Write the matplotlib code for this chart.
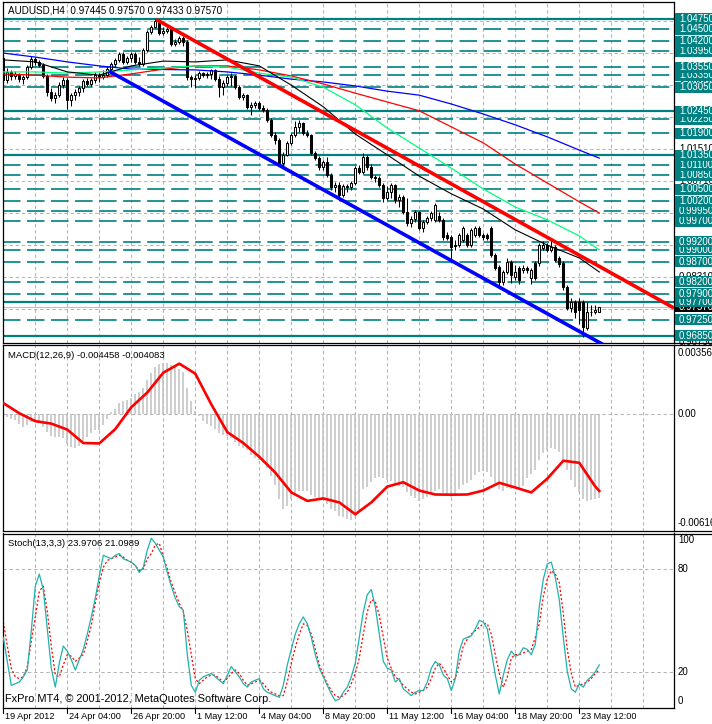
import numpy as np
import matplotlib
matplotlib.use('Agg')
import matplotlib.pyplot as plt
import matplotlib.transforms as mtrans
from matplotlib.patches import Rectangle
from matplotlib.lines import Line2D

plt.rcParams['font.family'] = ['Liberation Sans', 'DejaVu Sans']
plt.rcParams['lines.scale_dashes'] = False

W, H = 712, 724

# ---- AUDUSD H4 candles ----
opens = [1.0377, 1.0322, 1.0342, 1.0332, 1.0337, 1.0325, 1.0330, 1.0355, 1.0375, 1.0367,
         1.0360, 1.0332, 1.0292, 1.0277, 1.0285, 1.0310, 1.0322, 1.0273, 1.0285, 1.0292,
         1.0302, 1.0320, 1.0312, 1.0322, 1.0335, 1.0330, 1.0335, 1.0350, 1.0362, 1.0372,
         1.0387, 1.0367, 1.0377, 1.0387, 1.0367, 1.0362, 1.0397, 1.0442, 1.0455, 1.0470,
         1.0440, 1.0445, 1.0450, 1.0412, 1.0417, 1.0427, 1.0417, 1.0330, 1.0325, 1.0327,
         1.0340, 1.0335, 1.0337, 1.0347, 1.0325, 1.0305, 1.0315, 1.0330, 1.0332, 1.0305,
         1.0280, 1.0285, 1.0255, 1.0260, 1.0265, 1.0253, 1.0248, 1.0223, 1.0186, 1.0173,
         1.0116, 1.0136, 1.0166, 1.0186, 1.0206, 1.0216, 1.0191, 1.0186, 1.0141, 1.0129,
         1.0106, 1.0119, 1.0086, 1.0056, 1.0061, 1.0036, 1.0059, 1.0056, 1.0066, 1.0104,
         1.0094, 1.0131, 1.0106, 1.0081, 1.0079, 1.0061, 1.0029, 1.0044, 1.0061, 1.0024,
         1.0031, 0.9994, 0.9967, 0.9977, 0.9994, 0.9954, 0.9969, 0.9979, 0.9974, 0.9984,
         0.9974, 0.9937, 0.9932, 0.9912, 0.9912, 0.9924, 0.9937, 0.9912, 0.9937, 0.9954,
         0.9937, 0.9937, 0.9954, 0.9887, 0.9857, 0.9820, 0.9845, 0.9870, 0.9832, 0.9855,
         0.9850, 0.9855, 0.9830, 0.9867, 0.9867, 0.9904, 0.9912, 0.9899, 0.9907, 0.9880,
         0.9867, 0.9807, 0.9755, 0.9770, 0.9770, 0.9770, 0.9705, 0.9743, 0.9743, 0.97445]
highs = [1.0385, 1.0352, 1.0347, 1.0345, 1.0340, 1.0335, 1.0360, 1.0382, 1.0380, 1.0372,
         1.0365, 1.0337, 1.0302, 1.0292, 1.0317, 1.0330, 1.0327, 1.0290, 1.0300, 1.0307,
         1.0325, 1.0327, 1.0327, 1.0342, 1.0340, 1.0347, 1.0357, 1.0367, 1.0377, 1.0392,
         1.0392, 1.0382, 1.0392, 1.0392, 1.0380, 1.0402, 1.0447, 1.0460, 1.0475, 1.0472,
         1.0455, 1.0455, 1.0452, 1.0425, 1.0432, 1.0432, 1.0422, 1.0335, 1.0335, 1.0345,
         1.0342, 1.0342, 1.0350, 1.0350, 1.0332, 1.0322, 1.0335, 1.0340, 1.0335, 1.0310,
         1.0290, 1.0287, 1.0268, 1.0270, 1.0270, 1.0260, 1.0253, 1.0228, 1.0193, 1.0178,
         1.0144, 1.0171, 1.0191, 1.0221, 1.0223, 1.0218, 1.0198, 1.0188, 1.0146, 1.0134,
         1.0124, 1.0131, 1.0091, 1.0069, 1.0069, 1.0064, 1.0064, 1.0071, 1.0109, 1.0111,
         1.0141, 1.0136, 1.0114, 1.0086, 1.0084, 1.0066, 1.0059, 1.0066, 1.0064, 1.0039,
         1.0036, 1.0029, 0.9984, 0.9999, 0.9997, 0.9974, 0.9984, 0.9997, 1.0017, 0.9994,
         0.9979, 0.9944, 0.9937, 0.9924, 0.9942, 0.9959, 0.9942, 0.9954, 0.9959, 0.9959,
         0.9942, 0.9942, 0.9959, 0.9892, 0.9862, 0.9850, 0.9880, 0.9875, 0.9862, 0.9860,
         0.9862, 0.9860, 0.9855, 0.9872, 0.9917, 0.9922, 0.9917, 0.9924, 0.9912, 0.9885,
         0.9872, 0.9812, 0.9780, 0.9775, 0.9780, 0.9775, 0.9770, 0.9762, 0.9762, 0.97570]
lows = [1.0317, 1.0315, 1.0322, 1.0325, 1.0317, 1.0312, 1.0325, 1.0350, 1.0360, 1.0355,
        1.0327, 1.0282, 1.0270, 1.0265, 1.0280, 1.0302, 1.0250, 1.0258, 1.0273, 1.0282,
        1.0292, 1.0307, 1.0307, 1.0315, 1.0317, 1.0325, 1.0330, 1.0342, 1.0355, 1.0367,
        1.0362, 1.0362, 1.0367, 1.0362, 1.0357, 1.0357, 1.0392, 1.0437, 1.0452, 1.0435,
        1.0435, 1.0440, 1.0407, 1.0407, 1.0412, 1.0407, 1.0322, 1.0305, 1.0302, 1.0322,
        1.0330, 1.0327, 1.0325, 1.0320, 1.0280, 1.0285, 1.0307, 1.0307, 1.0300, 1.0275,
        1.0273, 1.0250, 1.0236, 1.0253, 1.0248, 1.0243, 1.0218, 1.0181, 1.0163, 1.0111,
        1.0109, 1.0134, 1.0161, 1.0181, 1.0193, 1.0186, 1.0181, 1.0136, 1.0124, 1.0099,
        1.0099, 1.0081, 1.0049, 1.0044, 1.0024, 1.0031, 1.0044, 1.0049, 1.0061, 1.0089,
        1.0089, 1.0099, 1.0076, 1.0069, 1.0056, 1.0019, 1.0024, 1.0029, 1.0017, 1.0007,
        0.9989, 0.9959, 0.9957, 0.9969, 0.9949, 0.9944, 0.9964, 0.9972, 0.9969, 0.9969,
        0.9924, 0.9924, 0.9870, 0.9899, 0.9907, 0.9919, 0.9907, 0.9907, 0.9932, 0.9932,
        0.9924, 0.9924, 0.9882, 0.9850, 0.9805, 0.9812, 0.9840, 0.9817, 0.9825, 0.9815,
        0.9842, 0.9842, 0.9815, 0.9825, 0.9860, 0.9899, 0.9894, 0.9894, 0.9870, 0.9857,
        0.9800, 0.9750, 0.9745, 0.9730, 0.9713, 0.9683, 0.9700, 0.9735, 0.9738, 0.97433]
closes = [1.0322, 1.0342, 1.0332, 1.0337, 1.0325, 1.0330, 1.0355, 1.0375, 1.0367, 1.0360,
          1.0332, 1.0292, 1.0277, 1.0285, 1.0310, 1.0322, 1.0273, 1.0285, 1.0292, 1.0302,
          1.0320, 1.0312, 1.0322, 1.0335, 1.0330, 1.0335, 1.0350, 1.0362, 1.0372, 1.0387,
          1.0367, 1.0377, 1.0387, 1.0367, 1.0362, 1.0397, 1.0442, 1.0455, 1.0470, 1.0440,
          1.0445, 1.0450, 1.0412, 1.0417, 1.0427, 1.0417, 1.0330, 1.0325, 1.0327, 1.0340,
          1.0335, 1.0337, 1.0347, 1.0325, 1.0305, 1.0315, 1.0330, 1.0332, 1.0305, 1.0280,
          1.0285, 1.0255, 1.0260, 1.0265, 1.0253, 1.0248, 1.0223, 1.0186, 1.0173, 1.0116,
          1.0136, 1.0166, 1.0186, 1.0206, 1.0216, 1.0191, 1.0186, 1.0141, 1.0129, 1.0106,
          1.0119, 1.0086, 1.0056, 1.0061, 1.0036, 1.0059, 1.0056, 1.0066, 1.0104, 1.0094,
          1.0131, 1.0106, 1.0081, 1.0079, 1.0061, 1.0029, 1.0044, 1.0061, 1.0024, 1.0031,
          0.9994, 0.9967, 0.9977, 0.9994, 0.9954, 0.9969, 0.9979, 0.9992, 1.0012, 0.9974,
          0.9932, 0.9929, 0.9907, 0.9909, 0.9937, 0.9954, 0.9912, 0.9949, 0.9954, 0.9937,
          0.9932, 0.9929, 0.9887, 0.9855, 0.9820, 0.9845, 0.9870, 0.9837, 0.9845, 0.9825,
          0.9855, 0.9850, 0.9850, 0.9830, 0.9912, 0.9912, 0.9899, 0.9907, 0.9875, 0.9865,
          0.9807, 0.9755, 0.9770, 0.9743, 0.9750, 0.9708, 0.9745, 0.9745, 0.9748, 0.97570]

# moving averages, read every 8 bars plus the last bar
ma_bars = [0, 8, 16, 24, 32, 40, 48, 56, 64, 72, 80, 88, 96, 104, 112, 120, 128, 136, 144, 149]
ma_black = [1.0373, 1.0368, 1.0343, 1.0335, 1.0358, 1.0370, 1.0368, 1.0373, 1.0358, 1.0310,
            1.0256, 1.0188, 1.0136, 1.0083, 1.0039, 1.0001, 0.9949, 0.9911, 0.9879, 0.9844]
ma_green = [1.0343, 1.0343, 1.0340, 1.0343, 1.0348, 1.0353, 1.0358, 1.0355, 1.0340, 1.0330,
            1.0305, 1.0261, 1.0203, 1.0153, 1.0103, 1.0051, 1.0006, 0.9974, 0.9934, 0.9899]
ma_red = [1.0338, 1.0335, 1.0330, 1.0328, 1.0338, 1.0350, 1.0358, 1.0358, 1.0348, 1.0333,
          1.0313, 1.0290, 1.0268, 1.0246, 1.0206, 1.0166, 1.0113, 1.0066, 1.0019, 0.9991]
ma_blue = [1.0390, 1.0380, 1.0368, 1.0358, 1.0350, 1.0349, 1.0348, 1.0343, 1.0335, 1.0325,
           1.0318, 1.0308, 1.0295, 1.0285, 1.0263, 1.0238, 1.0211, 1.0181, 1.0148, 1.0128]

# channel trend lines (bar, price)
red_line = [(38.2, 1.0474), (167.7, 0.9754)]
blue_line = [(26.4, 1.0345), (167.7, 0.9565)]

solid_levels = [1.0475, 1.0245, 1.0135, 0.9770, 0.9685]
dashed_levels = [1.0450, 1.0420, 1.0395, 1.0355, 1.0335, 1.0305, 1.0225, 1.0190, 1.0110,
                 1.0085, 1.0050, 1.0020, 0.9995, 0.9970, 0.9920, 0.9900, 0.9870, 0.9820,
                 0.9790, 0.9725]
grid_prices = [1.0471, 1.0391, 1.0311, 1.0231, 1.0151, 1.0071, 0.9991, 0.9911, 0.9831, 0.9751]
bid = 0.97570

# MACD(12,26,9): main as histogram, signal every 4 bars
macd_main = [-0.00013, -0.00018, -0.00029, -0.00034, -0.00055, -0.00071, -0.00060, -0.00045,
             -0.00039, -0.00045, -0.00071, -0.00097, -0.00118, -0.00123, -0.00123, -0.00128,
             -0.00160, -0.00175, -0.00181, -0.00170, -0.00144, -0.00123, -0.00102, -0.00086,
             -0.00086, -0.00060, -0.00024, 0.00008, 0.00029, 0.00060, 0.00071, 0.00076,
             0.00086, 0.00107, 0.00118, 0.00139, 0.00181, 0.00217, 0.00249, 0.00264,
             0.00270, 0.00270, 0.00259, 0.00249, 0.00238, 0.00223, 0.00139, 0.00071,
             0.00018, -0.00013, -0.00039, -0.00055, -0.00065, -0.00081, -0.00102, -0.00113,
             -0.00118, -0.00128, -0.00149, -0.00170, -0.00181, -0.00191, -0.00217, -0.00233,
             -0.00243, -0.00259, -0.00285, -0.00327, -0.00374, -0.00453, -0.00505, -0.00490,
             -0.00453, -0.00421, -0.00411, -0.00406, -0.00411, -0.00432, -0.00442, -0.00453,
             -0.00458, -0.00479, -0.00505, -0.00516, -0.00542, -0.00547, -0.00558, -0.00563,
             -0.00542, -0.00521, -0.00400, -0.00385, -0.00359, -0.00338, -0.00332, -0.00338,
             -0.00348, -0.00353, -0.00369, -0.00380, -0.00385, -0.00416, -0.00437, -0.00448,
             -0.00463, -0.00453, -0.00442, -0.00427, -0.00411, -0.00400, -0.00421, -0.00437,
             -0.00442, -0.00432, -0.00400, -0.00374, -0.00364, -0.00348, -0.00322, -0.00306,
             -0.00301, -0.00306, -0.00332, -0.00364, -0.00400, -0.00406, -0.00395, -0.00400,
             -0.00395, -0.00390, -0.00380, -0.00338, -0.00317, -0.00296, -0.00243, -0.00207,
             -0.00191, -0.00181, -0.00186, -0.00202, -0.00243, -0.00296, -0.00348, -0.00385,
             -0.00416, -0.00453, -0.00463, -0.00458, -0.00453, -0.004458]
sig_bars = list(range(0, 149, 4)) + [149]
macd_signal = [0.00058, 0.00004, -0.00038, -0.00051, -0.00083, -0.00154, -0.00156, -0.00080,
               0.00036, 0.00114, 0.00219, 0.00267, 0.00214, 0.00051, -0.00096, -0.00154,
               -0.00227, -0.00311, -0.00416, -0.00461, -0.00448, -0.00469, -0.00532, -0.00469,
               -0.00385, -0.00362, -0.00406, -0.00427, -0.00428, -0.00427, -0.00406, -0.00365,
               -0.00390, -0.00416, -0.00343, -0.00248, -0.00259, -0.00385, -0.004083]

# Stochastic(13,3,3)
stoch_main = [40, 26, 12, 13, 14, 17, 21, 44, 70, 77, 68, 45, 22, 11, 25, 35, 32, 27, 21, 27,
              33, 42, 52, 63, 76, 88, 87, 86, 88, 89, 86, 85, 84, 82, 78, 81, 91, 98, 95, 91,
              87, 78, 70, 63, 58, 56, 30, 12, 8, 15, 17, 18, 19, 17, 15, 13, 18, 23, 20, 17,
              13, 11, 14, 15, 16, 10, 8, 7, 6, 5, 12, 24, 33, 42, 48, 52, 48, 40, 30, 22,
              17, 12, 7, 3, 4, 8, 11, 17, 25, 40, 55, 65, 68, 58, 42, 26, 22, 21, 14, 16,
              10, 8, 6, 8, 9, 9, 14, 22, 26, 24, 18, 16, 9, 16, 32, 39, 40, 41, 45, 50,
              49, 45, 32, 18, 7, 18, 27, 32, 29, 30, 34, 33, 30, 36, 58, 74, 83, 84, 75, 62,
              40, 20, 10, 8, 13, 11, 15, 17, 20, 23.97]
stoch_signal = [49, 35, 22, 17, 16, 17, 23, 38, 52, 67, 70, 55, 35, 18, 17, 24, 30, 29, 26, 28,
                30, 38, 47, 60, 72, 81, 85, 86, 87, 88, 87, 85, 84, 82, 79, 80, 86, 89, 94, 95,
                87, 80, 72, 66, 60, 55, 44, 30, 16, 13, 15, 17, 18, 18, 16, 14, 16, 19, 21, 19,
                15, 12, 13, 14, 15, 13, 10, 8, 7, 6, 6, 14, 25, 34, 42, 48, 47, 42, 33, 24,
                18, 13, 9, 6, 5, 6, 8, 13, 19, 28, 42, 55, 62, 61, 53, 40, 28, 22, 17, 15,
                12, 10, 8, 7, 8, 9, 11, 16, 22, 25, 22, 18, 14, 16, 25, 35, 39, 42, 44, 46,
                48, 48, 42, 30, 19, 11, 17, 28, 30, 30, 31, 32, 33, 40, 48, 64, 74, 79, 77, 72,
                54, 33, 19, 11, 12, 13, 14, 16, 19, 21.10]

date_bars = [0, 16, 32, 48, 64, 80, 96, 112, 128, 144]
date_labels = ["19 Apr 2012", "24 Apr 04:00", "26 Apr 20:00", "1 May 12:00", "4 May 04:00",
               "8 May 20:00", "11 May 12:00", "16 May 04:00", "18 May 20:00", "23 May 12:00"]

TEAL = '#008080'
GRID = '#b4b4b4'
FS = 6.8
FS_PRICE = 7.0
XLIM = (-0.2, 167.675)
PLOT_L, PLOT_R = 2.5, 674.0


def panel(top, bottom, ylim):
    ax = fig.add_axes([PLOT_L / W, 1 - bottom / H, (PLOT_R - PLOT_L) / W, (bottom - top) / H])
    ax.set_xlim(*XLIM)
    ax.set_ylim(*ylim)
    ax.set_xticks([])
    ax.set_yticks([])
    for s in ax.spines.values():
        s.set_linewidth(0.9)
        s.set_color('black')
    for b in range(8, 168, 8):
        ax.axvline(b, color=GRID, lw=0.75, ls=(0, (2.4, 2.0)), zorder=0.5)
    return ax


def ftext(x, y, s, **kw):
    fig.text(x / W, 1 - y / H, s, va='center', ha='left', **kw)


fig = plt.figure(figsize=(W / 100, H / 100), dpi=100)
fig.patch.set_facecolor('white')

# ---------------- main price panel ----------------
P_LO, P_HI = 0.96681, 1.05174
ax = panel(2, 342.5, (P_LO, P_HI))
for g in grid_prices:
    ax.axhline(g, color=GRID, lw=0.75, ls=(0, (2.4, 2.0)), zorder=0.5)
for lv in dashed_levels:
    ax.axhline(lv, color=TEAL, lw=1.2, ls=(0, (12.6, 4.7)), zorder=1)
for lv in solid_levels:
    ax.axhline(lv, color=TEAL, lw=1.6, zorder=1)
ax.axhline(bid, color='#c0c0c0', lw=0.8, zorder=1)

xb = np.arange(len(closes))
o = np.array(opens)
c = np.array(closes)
ax.vlines(xb, lows, highs, color='black', lw=0.75, zorder=3)
up = c >= o
ax.bar(xb[up], (c - o)[up], bottom=o[up], width=0.55, facecolor='white',
       edgecolor='black', lw=0.75, zorder=4)
ax.bar(xb[~up], (o - c)[~up], bottom=c[~up], width=0.55, facecolor='black',
       edgecolor='black', lw=0.75, zorder=4)

ax.plot(ma_bars, ma_blue, color='#0000ff', lw=0.9, zorder=5)
ax.plot(ma_bars, ma_red, color='#ff0000', lw=0.9, zorder=5)
ax.plot(ma_bars, ma_green, color='#00ff7f', lw=0.9, zorder=5)
ax.plot(ma_bars, ma_black, color='black', lw=0.8, zorder=5)

ax.plot(*zip(*red_line), color='#ff0000', lw=2.6, solid_capstyle='butt', zorder=6)
ax.plot(*zip(*blue_line), color='#0000ff', lw=2.6, solid_capstyle='butt', zorder=6)

ftext(7.5, 10.5, "AUDUSD,H4  0.97445 0.97570 0.97433 0.97570", fontsize=7.1, color='black')

# right price scale: grid labels, bid box, then teal level boxes on top
tr = mtrans.blended_transform_factory(fig.transFigure, ax.transData)
px = (P_HI - P_LO) / (342.5 - 2)
for g in grid_prices:
    ax.text(679 / W, g, f"{g:.5f}", transform=tr, fontsize=FS_PRICE, color='black',
            va='center', ha='left', clip_on=False, zorder=7)
ax.text(679 / W, P_LO + 1.0 * px, "0.96730", transform=tr, fontsize=FS_PRICE, color='black',
        va='center', ha='left', clip_on=False, zorder=7)
ax.add_patch(Rectangle((675 / W, bid - 5.5 * px), 40 / W, 11 * px, transform=tr,
                       facecolor='black', edgecolor='none', clip_on=False, zorder=8))
ax.text(679 / W, bid, f"{bid:.5f}", transform=tr, fontsize=FS_PRICE, color='white',
        va='center', ha='left', clip_on=False, zorder=8)
for k, lv in enumerate(sorted(solid_levels + dashed_levels)):
    z = 9 + k * 0.01
    ax.add_patch(Rectangle((675 / W, lv - 5.5 * px), 40 / W, 11 * px, transform=tr,
                           facecolor=TEAL, edgecolor='none', clip_on=False, zorder=z))
    ax.text(679 / W, lv, f"{lv:.5f}", transform=tr, fontsize=FS_PRICE, color='white',
            va='center', ha='left', clip_on=False, zorder=z + 0.005)

# ---------------- MACD panel ----------------
axm = panel(345, 530.5, (-0.00618, 0.00366))
axm.axhline(0, color=GRID, lw=0.75, ls=(0, (2.4, 2.0)), zorder=0.5)
axm.vlines(xb, 0, macd_main, color='#c0c0c0', lw=1.1, zorder=2)
axm.plot(sig_bars, macd_signal, color='#ff0000', lw=1.9, zorder=3)
ftext(7.5, 355, "MACD(12,26,9) -0.004458 -0.004083", fontsize=FS, color='black')
ftext(678, 352.5, "0.00356", fontsize=FS_PRICE, color='black')
ftext(678, 414, "0.00", fontsize=FS_PRICE, color='black')
ftext(678, 523, "-0.00616", fontsize=FS_PRICE, color='black')

# ---------------- Stochastic panel ----------------
axs = panel(533.5, 708, (-1.21, 100.74))
for lv in (20, 80):
    axs.axhline(lv, color=GRID, lw=0.75, ls=(0, (2.4, 2.0)), zorder=0.5)
axs.plot(xb, stoch_signal, color='#ff0000', lw=0.9, ls=(0, (1.5, 1.5)), zorder=2)
axs.plot(xb, stoch_main, color='#20b2aa', lw=0.9, zorder=3)
ftext(7.5, 543.5, "Stoch(13,3,3) 23.9706 21.0989", fontsize=FS, color='black')
ftext(5, 699.5, "FxPro MT4, \u00a9 2001-2012, MetaQuotes Software Corp.", fontsize=7.9,
      color='black')
for val, yp in ((100, 540), (80, 569), (20, 672), (0, 701)):
    ftext(678, yp, str(val), fontsize=FS_PRICE, color='black')

# time axis
trx = mtrans.blended_transform_factory(axs.transData, fig.transFigure)
for b, lab in zip(date_bars, date_labels):
    axs.add_line(Line2D([b, b], [1 - 708 / H, 1 - 712.5 / H], transform=trx, color='black',
                        lw=0.8, clip_on=False))
    axs.text(b + 0.4, 1 - 716.5 / H, lab, transform=trx, fontsize=6.6, color='black',
             va='center', ha='left', clip_on=False)

# panel separators reaching into the price scale area
for yp in (342.5, 345, 530.5, 533.5):
    fig.add_artist(Line2D([PLOT_R / W, 1], [1 - yp / H, 1 - yp / H], color='black', lw=0.9))

fig.savefig('out.png', dpi=100)
